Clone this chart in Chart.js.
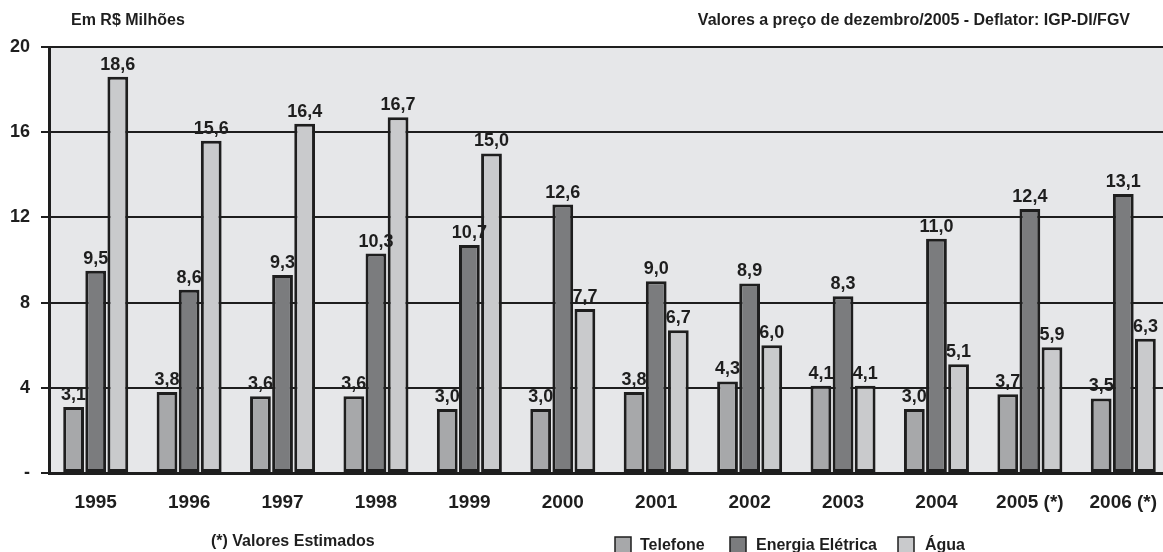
<!DOCTYPE html>
<html lang="pt-BR">
<head>
    <meta charset="UTF-8">
    <title>Em R$ Milhões</title>
    <script src="https://cdn.jsdelivr.net/npm/chart.js@4.4.1/dist/chart.umd.min.js"></script>
    <style>
        body { margin: 0; background: #ffffff; overflow: hidden; }
        .wrap { position: relative; width: 1163px; height: 552px; overflow: hidden; }
    </style>
</head>
<body>
    <div class="wrap">
        <!-- canvas is a bit wider than the page: the last group is cut at the right edge like the original -->
        <canvas id="chart" width="1170" height="552"></canvas>
    </div>

    <script>
        const years = ['1995', '1996', '1997', '1998', '1999', '2000', '2001', '2002', '2003', '2004', '2005 (*)', '2006 (*)'];
        const telefone = [3.1, 3.8, 3.6, 3.6, 3.0, 3.0, 3.8, 4.3, 4.1, 3.0, 3.7, 3.5];
        const energia = [9.5, 8.6, 9.3, 10.3, 10.7, 12.6, 9.0, 8.9, 8.3, 11.0, 12.4, 13.1];
        const agua = [18.6, 15.6, 16.4, 16.7, 15.0, 7.7, 6.7, 6.0, 4.1, 5.1, 5.9, 6.3];
        const seriesNames = ['Telefone', 'Energia Elétrica', 'Água'];
        const yTicks = [0, 4, 8, 12, 16, 20];

        const colors = ['#a7a8aa', '#7b7c7e', '#c9cacc'];
        const ink = '#1e1e1e';
        const FONT = '"Liberation Sans", Arial, sans-serif';

        // plot background + header / footer texts + legend
        const decor = {
            id: 'decor',
            beforeDraw(chart) {
                const { ctx, chartArea: a } = chart;
                ctx.save();
                ctx.fillStyle = '#e6e7e9';
                ctx.fillRect(a.left, a.top, a.right - a.left, a.bottom - a.top);
                ctx.restore();
            },
            afterDraw(chart) {
                const ctx = chart.ctx;
                ctx.save();
                ctx.fillStyle = ink;
                ctx.textBaseline = 'middle';
                ctx.font = 'bold 16px ' + FONT;
                ctx.textAlign = 'left';
                ctx.fillText('Em R$ Milhões', 71, 21);
                ctx.textAlign = 'right';
                ctx.fillText('Valores a preço de dezembro/2005 - Deflator: IGP-DI/FGV', 1130, 21);

                ctx.textAlign = 'left';
                ctx.fillText('(*) Valores Estimados', 211, 542);

                // legend
                const items = [[615, 640], [730, 756], [898, 925]];
                items.forEach((it, i) => {
                    ctx.fillStyle = colors[i];
                    ctx.fillRect(it[0], 537, 16, 16);
                    ctx.strokeStyle = ink;
                    ctx.lineWidth = 1.5;
                    ctx.strokeRect(it[0], 537, 16, 16);
                    ctx.fillStyle = ink;
                    ctx.fillText(seriesNames[i], it[1], 546);
                });
                ctx.restore();
            },
            afterDatasetsDraw(chart) {
                const ctx = chart.ctx;
                ctx.save();
                ctx.font = 'bold 18px ' + FONT;
                ctx.fillStyle = ink;
                ctx.textAlign = 'center';
                ctx.textBaseline = 'bottom';
                chart.data.datasets.forEach((ds, di) => {
                    chart.getDatasetMeta(di).data.forEach((bar, i) => {
                        const txt = ds.data[i].toFixed(1).replace('.', ',');
                        ctx.fillText(txt, bar.x, bar.y - 3);
                    });
                });
                ctx.restore();
            }
        };

        new Chart(document.getElementById('chart'), {
            type: 'bar',
            data: {
                labels: years,
                datasets: [telefone, energia, agua].map((vals, i) => ({
                    label: seriesNames[i],
                    data: vals,
                    backgroundColor: colors[i],
                    borderColor: ink,
                    borderWidth: 3,
                    borderSkipped: false,
                    categoryPercentage: 0.71,
                    barPercentage: 0.94
                }))
            },
            options: {
                responsive: false,
                animation: false,
                layout: { padding: { top: 47, right: 0, left: 0, bottom: 0 } },
                plugins: {
                    legend: { display: false },
                    tooltip: { enabled: false }
                },
                scales: {
                    x: {
                        grid: { display: false },
                        border: { display: true, color: ink, width: 3 },
                        ticks: {
                            color: ink,
                            font: { family: FONT, size: 19, weight: 'bold' },
                            padding: 10
                        },
                        afterFit(scale) { scale.height = 79; }
                    },
                    y: {
                        min: 0,
                        max: 20,
                        afterBuildTicks(scale) { scale.ticks = yTicks.map(v => ({ value: v })); },
                        grid: { color: ink, lineWidth: 2, tickLength: 8 },
                        border: { display: true, color: ink, width: 3 },
                        ticks: {
                            color: ink,
                            font: { family: FONT, size: 18, weight: 'bold' },
                            padding: 11,
                            callback: v => v === 0 ? '-' : v
                        },
                        afterFit(scale) { scale.width = 49; }
                    }
                }
            },
            plugins: [decor]
        });
    </script>
</body>
</html>
